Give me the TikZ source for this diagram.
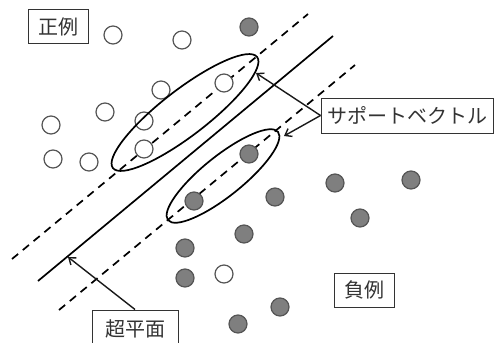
\documentclass[tikz,border=0pt]{standalone}
\usepackage{fontspec}
\newfontfamily\jpfont{Noto Sans CJK JP}
\usetikzlibrary{arrows.meta}
\definecolor{txtgray}{HTML}{333333}
\definecolor{dotfill}{HTML}{7F7F7F}
\definecolor{dotedge}{HTML}{555555}
\tikzset{
  posdot/.style={circle,draw=dotedge,fill=white,line width=1.2pt,minimum size=18pt,inner sep=0pt},
  negdot/.style={circle,draw=dotedge,fill=dotfill,line width=1.2pt,minimum size=18pt,inner sep=0pt},
  labelbox/.style={draw=black!80,line width=1pt,fill=white,inner sep=0pt,text=txtgray,font=\jpfont\fontsize{20}{24}\selectfont},
  hyper/.style={line width=1.7pt,black},
  margin/.style={line width=1.7pt,black,dash pattern=on 8pt off 6pt},
  svring/.style={line width=1.7pt,black},
  pointer/.style={line width=1.4pt,black!90,-{Straight Barb[length=6pt,width=9pt,line width=1.4pt]}}
}
\begin{document}
\begin{tikzpicture}[x=1pt,y=-1pt]
\useasboundingbox[fill=white] (0,0) rectangle (494,342);
% lines
\coordinate (h1) at (38,281); \coordinate (h2) at (333,36);
\coordinate (u1) at (12,259); \coordinate (u2) at (308,14);
\coordinate (l1) at (59,310); \coordinate (l2) at (355,65);
\draw[hyper] (h1) -- (h2);
\draw[margin] (u1) -- (u2);
\draw[margin] (l1) -- (l2);
% positive examples
\foreach \i/\p in {1/{(113,35)},2/{(182,40)},3/{(161,90)},4/{(224,83)},5/{(105,112)},6/{(144,121)},7/{(51,125)},8/{(144,149)},9/{(53,159)},10/{(89,162)},11/{(224,274)}}
  \node[posdot] (p\i) at \p {};
% negative examples
\foreach \i/\p in {1/{(249,27)},2/{(249,154)},3/{(194,201)},4/{(185,248)},5/{(185,278)},6/{(244,234)},7/{(238,324)},8/{(335,183)},9/{(411,180)},10/{(275,197)},11/{(360,218)},12/{(280,307)}}
  \node[negdot] (n\i) at \p {};
% support vector rings
\draw[svring,rotate around={37.6:(185,112.5)}] (185,112.5) ellipse [x radius=91, y radius=23];
\draw[svring,rotate around={38.7:(223,176)}] (223,176) ellipse [x radius=70.5, y radius=20];
% labels
\node[labelbox,minimum width=60pt,minimum height=34pt] (pos) at (58,27) {正例};
\node[labelbox,minimum width=60pt,minimum height=34pt] (neg) at (364,290) {負例};
\node[labelbox,minimum width=172pt,minimum height=35pt] (sv) at (407,115.5) {サポートベクトル};
\node[labelbox,minimum width=86pt,minimum height=38pt] (hp) at (135,329) {超平面};
% pointers
\coordinate (svA) at (256,73);
\coordinate (svB) at (284,136);
\coordinate (hpA) at (68,257);
\draw[pointer] (sv.west) -- (svA);
\draw[pointer] (sv.west) -- (svB);
\draw[pointer] (hp.north) -- (hpA);
\end{tikzpicture}
\end{document}
